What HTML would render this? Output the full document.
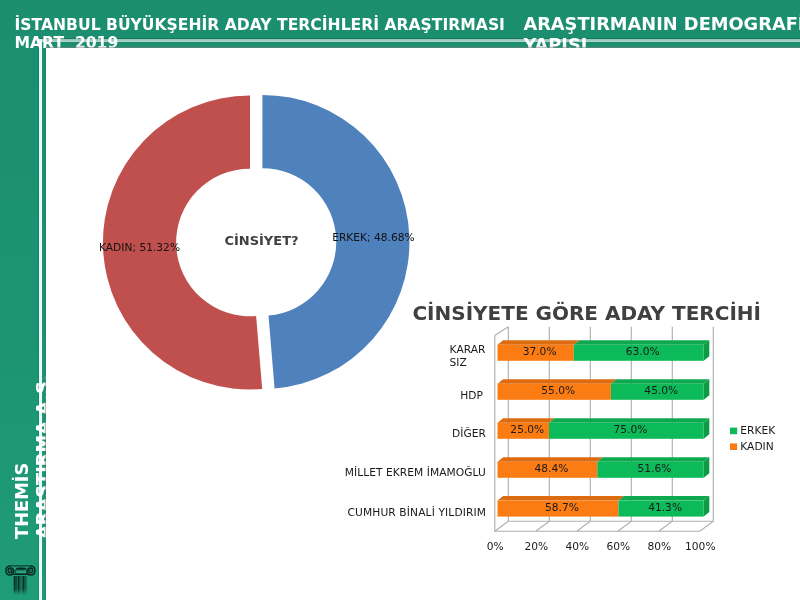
<!DOCTYPE html>
<html lang="tr">
<head>
<meta charset="utf-8">
<title>Araştırmanın Demografik Yapısı</title>
<style>
html,body{margin:0;padding:0}
body{width:800px;height:600px;overflow:hidden;position:relative;
 background:linear-gradient(180deg,#1b8e6f 0%,#1c9473 55%,#1f9c78 100%);
 font-family:"DejaVu Sans","Liberation Sans",sans-serif;}
.hline{position:absolute;left:39px;top:39px;width:761px;height:3px;background:linear-gradient(180deg,#93c1b4,#b4d8cd);box-shadow:0 -1px 0 rgba(0,0,0,.16)}
.vline{position:absolute;left:39px;top:39px;width:3px;height:561px;background:#e6fff9;box-shadow:-1px 0 0 rgba(0,0,0,.12)}
.h1{position:absolute;left:14.5px;top:15.6px;color:#fff;font-weight:bold;font-size:15.6px;line-height:18.3px;white-space:nowrap}
.h2{position:absolute;left:523.4px;top:12.6px;width:300px;color:#fff;font-weight:bold;font-size:17.8px;line-height:21px;white-space:nowrap}
.side{position:absolute;left:10.6px;top:538.6px;width:200px;color:#fff;font-weight:bold;font-size:17.8px;line-height:21.4px;white-space:nowrap;
 transform-origin:0 0;transform:rotate(-90deg)}
.panel{position:absolute;left:45.8px;top:47.8px;width:755px;height:553px;background:#fff;box-shadow:0 -1px 1.5px rgba(130,130,130,.65),-1px 0 1px rgba(40,90,75,.35)}
svg{position:absolute;left:0;top:0}
svg text{font-family:"DejaVu Sans","Liberation Sans",sans-serif}
</style>
</head>
<body>
<div class="hline"></div>
<div class="vline"></div>
<div class="h1">İSTANBUL BÜYÜKŞEHİR ADAY TERCİHLERİ ARAŞTIRMASI<br>MART&nbsp; 2019</div>
<div class="h2">ARAŞTIRMANIN DEMOGRAFİK<br>YAPISI</div>
<div class="side">THEMİS<br>ARAŞTIRMA A.Ş.</div>
<div class="panel"></div>
<svg width="800" height="600" viewBox="0 0 800 600">
<!-- logo -->
<g id="logo" fill="none" stroke="#072a1f" stroke-width="1.45" stroke-linecap="round">
<path d="M9.8 565.9 H31.2" stroke-width="1"/>
<path d="M9.8 565.9 C4.6 565.9 4.6 574.9 10 574.9 C14.8 574.9 15 567.9 10.4 567.9 C7.4 567.9 7.4 572.7 10.3 572.7 C12.5 572.7 12.5 570 10.7 570"/>
<path d="M31 565.9 C36.2 565.9 36.2 574.9 30.8 574.9 C26 574.9 25.8 567.9 30.4 567.9 C33.4 567.9 33.4 572.7 30.5 572.7 C28.3 572.7 28.3 570 30.1 570"/>
<rect x="15.2" y="569.9" width="11.3" height="3.9" rx=".8" fill="#2aa37e" stroke-width=".7"/>
<ellipse cx="21.1" cy="568.5" rx="4.9" ry=".75" fill="#072a1f" stroke-width=".6"/>
<path d="M13.6 574.4 H27.2" stroke-width="1.1"/>
</g>
<g id="shaft">
<defs><linearGradient id="sg" x1="0" y1="0" x2="0" y2="1"><stop offset="0" stop-color="#072a1f"/><stop offset=".68" stop-color="#072a1f" stop-opacity=".9"/><stop offset="1" stop-color="#072a1f" stop-opacity="0"/></linearGradient></defs>
<rect x="13.7" y="576" width="2" height="19" fill="url(#sg)"/>
<rect x="16.3" y="576" width=".8" height="19" fill="url(#sg)"/>
<rect x="17.6" y="576" width="2.1" height="19" fill="url(#sg)"/>
<rect x="20.6" y="576" width=".8" height="19" fill="url(#sg)"/>
<rect x="22.4" y="576" width="2.2" height="19" fill="url(#sg)"/>
<rect x="25.5" y="576" width=".9" height="19" fill="url(#sg)"/>
</g>
<!-- donut -->
<path d="M262.39 94.94 A147.0 147.0 0 0 1 274.57 388.44 L268.51 315.49 A73.8 73.8 0 0 0 262.39 168.14 Z" fill="#4F81BD"/>
<path d="M262.18 388.95 A147.0 147.0 0 1 1 250.01 95.46 L250.01 168.66 A73.8 73.8 0 1 0 256.12 316.00 Z" fill="#C0504D"/>

<text x="261.5" y="244.6" text-anchor="middle" font-size="13" font-weight="bold" fill="#404040">CİNSİYET?</text>
<g font-size="10.67" fill="#111">
<text x="99" y="250.7">KADIN; 51.32%</text>
<text x="332.2" y="240.8">ERKEK; 48.68%</text>
</g>
<!-- bar chart -->
<text x="412.4" y="320.2" font-size="20" font-weight="bold" fill="#404040">CİNSİYETE GÖRE ADAY TERCİHİ</text>
<g fill="none" stroke="#b0b0b0" stroke-width="1.15">
<path d="M508.3 326.8 V521.2 L494.8 531.2"/>
<path d="M549.3 326.8 V521.2 L535.8 531.2"/>
<path d="M590.3 326.8 V521.2 L576.8 531.2"/>
<path d="M631.3 326.8 V521.2 L617.8 531.2"/>
<path d="M672.3 326.8 V521.2 L658.8 531.2"/>
<path d="M713.3 326.8 V521.2 L699.8 531.2"/>
<path d="M494.8 335.4 L508.3 326.8 "/>
<path d="M494.8 335.4 V531.2 H699.8"/>
<path d="M508.3 521.2 H713.3"/>
</g>
<polygon points="497.5,344.8 503.1,340.2 579.4,340.2 573.8,344.8" fill="#DD6B10"/>
<polygon points="573.8,344.8 579.4,340.2 709.3,340.2 703.7,344.8" fill="#0EA94E"/>
<polygon points="703.7,344.8 709.3,340.2 709.3,356.2 703.7,360.8" fill="#0B9C45"/>
<rect x="497.5" y="344.8" width="76.3" height="16.0" fill="#FB7C12"/>
<rect x="573.8" y="344.8" width="129.9" height="16.0" fill="#0DBA59"/>
<polygon points="497.5,383.8 503.1,379.2 616.5,379.2 610.9,383.8" fill="#DD6B10"/>
<polygon points="610.9,383.8 616.5,379.2 709.3,379.2 703.7,383.8" fill="#0EA94E"/>
<polygon points="703.7,383.8 709.3,379.2 709.3,395.2 703.7,399.8" fill="#0B9C45"/>
<rect x="497.5" y="383.8" width="113.4" height="16.0" fill="#FB7C12"/>
<rect x="610.9" y="383.8" width="92.8" height="16.0" fill="#0DBA59"/>
<polygon points="497.5,422.8 503.1,418.2 554.6,418.2 549.0,422.8" fill="#DD6B10"/>
<polygon points="549.0,422.8 554.6,418.2 709.3,418.2 703.7,422.8" fill="#0EA94E"/>
<polygon points="703.7,422.8 709.3,418.2 709.3,434.2 703.7,438.8" fill="#0B9C45"/>
<rect x="497.5" y="422.8" width="51.5" height="16.0" fill="#FB7C12"/>
<rect x="549.0" y="422.8" width="154.7" height="16.0" fill="#0DBA59"/>
<polygon points="497.5,461.8 503.1,457.2 602.9,457.2 597.3,461.8" fill="#DD6B10"/>
<polygon points="597.3,461.8 602.9,457.2 709.3,457.2 703.7,461.8" fill="#0EA94E"/>
<polygon points="703.7,461.8 709.3,457.2 709.3,473.2 703.7,477.8" fill="#0B9C45"/>
<rect x="497.5" y="461.8" width="99.8" height="16.0" fill="#FB7C12"/>
<rect x="597.3" y="461.8" width="106.4" height="16.0" fill="#0DBA59"/>
<polygon points="497.5,500.6 503.1,496.0 624.1,496.0 618.5,500.6" fill="#DD6B10"/>
<polygon points="618.5,500.6 624.1,496.0 709.3,496.0 703.7,500.6" fill="#0EA94E"/>
<polygon points="703.7,500.6 709.3,496.0 709.3,512.0 703.7,516.6" fill="#0B9C45"/>
<rect x="497.5" y="500.6" width="121.0" height="16.0" fill="#FB7C12"/>
<rect x="618.5" y="500.6" width="85.2" height="16.0" fill="#0DBA59"/>

<g font-size="10.67" fill="#1a1a1a">
<text x="539.6" y="354.9" text-anchor="middle">37.0%</text>
<text x="642.7" y="354.9" text-anchor="middle">63.0%</text>
<text x="558.2" y="393.9" text-anchor="middle">55.0%</text>
<text x="661.3" y="393.9" text-anchor="middle">45.0%</text>
<text x="527.3" y="432.9" text-anchor="middle">25.0%</text>
<text x="630.4" y="432.9" text-anchor="middle">75.0%</text>
<text x="551.4" y="471.9" text-anchor="middle">48.4%</text>
<text x="654.5" y="471.9" text-anchor="middle">51.6%</text>
<text x="562.0" y="510.7" text-anchor="middle">58.7%</text>
<text x="665.1" y="510.7" text-anchor="middle">41.3%</text>

<text x="495.3" y="549.7" text-anchor="middle">0%</text>
<text x="536.3" y="549.7" text-anchor="middle">20%</text>
<text x="577.3" y="549.7" text-anchor="middle">40%</text>
<text x="618.3" y="549.7" text-anchor="middle">60%</text>
<text x="659.3" y="549.7" text-anchor="middle">80%</text>
<text x="700.3" y="549.7" text-anchor="middle">100%</text>

<text x="449.6" y="353.4">KARAR</text>
<text x="449.6" y="366">SIZ</text>
<text x="483" y="398.6" text-anchor="end">HDP</text>
<text x="485.8" y="437" text-anchor="end">DİĞER</text>
<text x="485.8" y="476.4" text-anchor="end" letter-spacing="0.05">MİLLET EKREM İMAMOĞLU</text>
<text x="486.2" y="515.6" text-anchor="end" letter-spacing="0.13">CUMHUR BİNALİ YILDIRIM</text>
<text x="740.3" y="434.4">ERKEK</text>
<text x="740.3" y="449.8">KADIN</text>
</g>
<rect x="730" y="427.6" width="7.2" height="6.6" fill="#0DBA59"/>
<rect x="730" y="443.4" width="7.2" height="6.6" fill="#FB7C12"/>
</svg>
</body>
</html>
